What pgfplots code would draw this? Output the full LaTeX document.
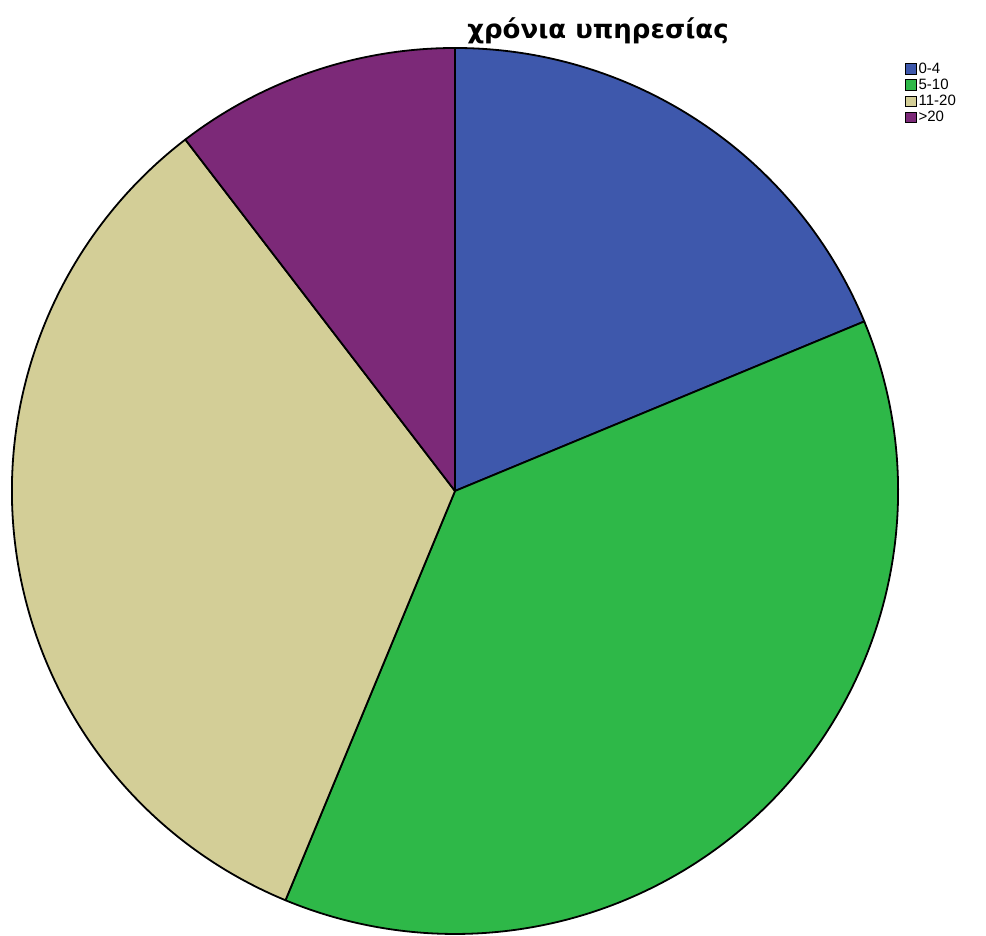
\documentclass[border=0pt]{standalone}
\usepackage{fontspec}
\setmainfont{Liberation Sans}
\newfontfamily\titlefont{DejaVu Sans}
\usepackage{pgfplots}
\usepackage{pgfplotstable}
\pgfplotsset{compat=1.18}
\definecolor{c1}{RGB}{62,88,172}
\definecolor{c2}{RGB}{46,184,72}
\definecolor{c3}{RGB}{211,206,151}
\definecolor{c4}{RGB}{124,41,120}
\pgfplotstableread{
label count color
0-4 9 c1
5-10 18 c2
11-20 16 c3
>20 5 c4
}\piedata
% cumulative angles, clockwise from the top
\def\total{0}%
\pgfplotsforeachungrouped \i in {0,...,3}{%
  \pgfplotstablegetelem{\i}{count}\of\piedata%
  \pgfmathsetmacro\total{\total+\pgfplotsretval}%
}%
\def\cum{90}%
\pgfplotsforeachungrouped \i in {0,...,3}{%
  \pgfplotstablegetelem{\i}{count}\of\piedata%
  \pgfmathsetmacro\spanang{360*\pgfplotsretval/\total}%
  \expandafter\edef\csname sA\i\endcsname{\cum}%
  \pgfmathsetmacro\cum{\cum-\spanang}%
  \expandafter\edef\csname eA\i\endcsname{\cum}%
}%
\begin{document}
\begin{tikzpicture}
\begin{axis}[
  x=0.5pt, y=0.5pt,
  xmin=0, xmax=986, ymin=0, ymax=936,
  axis lines=none, ticks=none, clip=false,
  legend style={at={(axis cs:899,879)}, anchor=north west, draw=none, fill=none,
    font=\fontsize{7.5}{8}\selectfont, row sep=0.1pt,
    nodes={inner sep=0.6pt}},
  legend cell align=left,
  legend image code/.code={\draw[#1] (0pt,-2.7pt) rectangle (5.5pt,2.7pt);},
]
\coordinate (bbsw) at (axis cs:0,0);
\coordinate (bbne) at (axis cs:986,936);
\pgfplotsinvokeforeach{0,...,3}{%
  \pgfplotstablegetelem{#1}{color}\of\piedata%
  \edef\col{\pgfplotsretval}%
  \edef\cmd{\noexpand\filldraw[fill=\col, draw=black, line width=0.9pt, line join=round]
    (axis cs:455,445) -- ++(\csname sA#1\endcsname:221.5pt)
    arc[start angle=\csname sA#1\endcsname, end angle=\csname eA#1\endcsname, radius=221.5pt] -- cycle;}%
  \cmd%
}
\addlegendimage{fill=c1, draw=black, line width=0.5pt}
\addlegendentry{0-4}
\addlegendimage{fill=c2, draw=black, line width=0.5pt}
\addlegendentry{5-10}
\addlegendimage{fill=c3, draw=black, line width=0.5pt}
\addlegendentry{11-20}
\addlegendimage{fill=c4, draw=black, line width=0.5pt}
\addlegendentry{>20}
\node[font=\titlefont\bfseries\fontsize{13}{15}\selectfont, anchor=center] at (axis cs:598,905) {χρόνια υπηρεσίας};
\end{axis}
\pgfresetboundingbox
\path[use as bounding box] (bbsw) rectangle (bbne);
\end{tikzpicture}
\end{document}
